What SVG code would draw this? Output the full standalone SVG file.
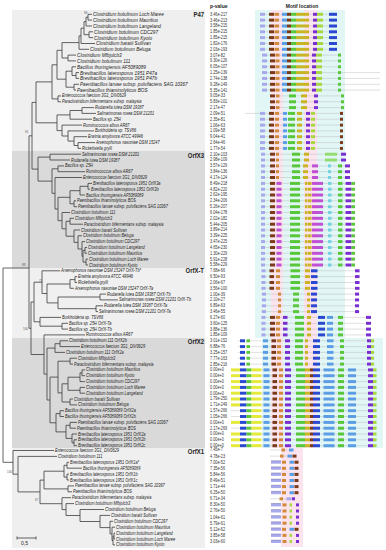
<svg xmlns="http://www.w3.org/2000/svg" width="386" height="550" viewBox="0 0 386 550">
<style>
.tr{fill:none;stroke:#3c3c3c;stroke-width:0.8}
.t1{font-family:"Liberation Sans",Arial,sans-serif;font-style:italic;font-size:5.5px;fill:#222}
.t2{font-family:"Liberation Sans",Arial,sans-serif;font-style:italic;font-size:4.6px;fill:#222}
.pv{font-family:"Liberation Sans",Arial,sans-serif;font-size:4.5px;fill:#333}
.gl{font-family:"Liberation Sans",Arial,sans-serif;font-weight:bold;font-size:7px;fill:#222;text-anchor:end}
.hd{font-family:"Liberation Sans",Arial,sans-serif;font-weight:bold;font-size:5px;fill:#222}
.bs{font-family:"Liberation Sans",Arial,sans-serif;font-size:3px;fill:#555}
.ln{fill:none;stroke:#b0b0b0;stroke-width:0.4}
defs rect{y:-1.5px;height:3px}
.lav{fill:#a8a8ec}.brn{fill:#7b3a1a}.org{fill:#d08a3a}.lbl{fill:#5c9ee6}.grn{fill:#58c83a}.lgr{fill:#94dc70}
.olv{fill:#c8b424}.pur{fill:#7a30d0}.ygr{fill:#a8d840}.blu{fill:#2a48d0}.cyn{fill:#72d2e2}.ylw{fill:#e4ea3c}.mag{fill:#bf50d6}
</style>
<defs>
<g id="mA"><path class="ln" d="M260 0H337"/><rect class="lav" x="260" y="-1.7" width="5" height="3.4"/><rect class="brn" x="269" y="-1.7" width="5" height="3.4"/><rect class="org" x="274.5" y="-1.7" width="4.5" height="3.4"/><rect class="lbl" x="282" y="-1.7" width="5" height="3.4"/><rect class="brn" x="287" y="-1.7" width="4" height="3.4"/><rect class="grn" x="291" y="-1.7" width="5" height="3.4"/><rect class="olv" x="296" y="-1.7" width="13" height="3.4"/><rect class="pur" x="313" y="-1.7" width="4" height="3.4"/><rect class="ygr" x="317" y="-1.7" width="6" height="3.4"/><rect class="blu" x="329" y="-1.7" width="8" height="3.4"/></g>
<g id="mB"><path class="ln" d="M262 0H341"/><rect class="lav" x="262" y="-1.7" width="5" height="3.4"/><rect class="brn" x="270" y="-1.7" width="5" height="3.4"/><rect class="org" x="275.5" y="-1.7" width="4" height="3.4"/><rect class="lbl" x="282" y="-1.7" width="5" height="3.4"/><rect class="brn" x="287" y="-1.7" width="4" height="3.4"/><rect class="grn" x="291" y="-1.7" width="5" height="3.4"/><rect class="olv" x="296" y="-1.7" width="13" height="3.4"/><rect class="pur" x="312" y="-1.7" width="4" height="3.4"/><rect class="ygr" x="316" y="-1.7" width="6" height="3.4"/><rect class="grn" x="338" y="-1.7" width="3" height="3.4"/></g>
<g id="mC1"><path class="ln" d="M270 0H344"/><rect class="brn" x="270" y="-1.7" width="5" height="3.4"/><rect class="org" x="276" y="-1.7" width="3.5" height="3.4"/><rect class="grn" x="289" y="-1.7" width="7" height="3.4"/><rect class="olv" x="301" y="-1.7" width="6" height="3.4"/><rect class="pur" x="314" y="-1.7" width="4" height="3.4"/><rect class="grn" x="341" y="-1.7" width="3" height="3.4"/></g>
<g id="mC2"><path class="ln" d="M260 0H343"/><rect class="lav" x="260" y="-1.7" width="5" height="3.4"/><rect class="brn" x="269" y="-1.7" width="5" height="3.4"/><rect class="org" x="275" y="-1.7" width="4" height="3.4"/><rect class="lbl" x="283" y="-1.7" width="4" height="3.4"/><rect class="grn" x="288" y="-1.7" width="7" height="3.4"/><rect class="olv" x="297" y="-1.7" width="5" height="3.4"/><rect class="pur" x="306" y="-1.7" width="4" height="3.4"/><rect class="ygr" x="311" y="-1.7" width="4" height="3.4"/><rect class="brn" x="340" y="-1.7" width="3" height="3.4"/></g>
<g id="mD1"><path class="ln" d="M261 0H347"/><rect class="lav" x="261" y="-1.7" width="4" height="3.4"/><rect class="brn" x="270" y="-1.7" width="5" height="3.4"/><rect class="org" x="276" y="-1.7" width="3" height="3.4"/><rect class="grn" x="292" y="-1.7" width="8" height="3.4"/><rect class="olv" x="304" y="-1.7" width="5" height="3.4"/><rect class="lgr" x="325" y="-1.7" width="12" height="3.4"/><rect class="pur" x="341" y="-1.7" width="5" height="3.4"/></g>
<g id="mD2"><path class="ln" d="M261 0H350"/><rect class="lav" x="261" y="-1.7" width="4" height="3.4"/><rect class="brn" x="270" y="-1.7" width="5" height="3.4"/><rect class="org" x="276" y="-1.7" width="3" height="3.4"/><rect class="grn" x="292" y="-1.7" width="8" height="3.4"/><rect class="olv" x="303" y="-1.7" width="5" height="3.4"/><rect class="mag" x="312" y="-1.7" width="6" height="3.4"/><rect class="cyn" x="328" y="-1.7" width="3" height="3.4"/><rect class="grn" x="338" y="-1.7" width="4" height="3.4"/><rect class="pur" x="345" y="-1.7" width="5" height="3.4"/></g>
<g id="mD3"><path class="ln" d="M261 0H355"/><rect class="lav" x="261" y="-1.7" width="4" height="3.4"/><rect class="brn" x="270" y="-1.7" width="5" height="3.4"/><rect class="mag" x="276.5" y="-1.7" width="5" height="3.4"/><rect class="grn" x="290" y="-1.7" width="10" height="3.4"/><rect class="olv" x="305" y="-1.7" width="2.5" height="3.4"/><rect class="olv" x="308" y="-1.7" width="3.5" height="3.4"/><rect class="mag" x="312" y="-1.7" width="11" height="3.4"/><rect class="cyn" x="328" y="-1.7" width="3.5" height="3.4"/><rect class="grn" x="338" y="-1.7" width="4.5" height="3.4"/><rect class="pur" x="345.5" y="-1.7" width="6" height="3.4"/><rect class="grn" x="351.5" y="-1.7" width="3.5" height="3.4"/></g>
<g id="mE1"><path class="ln" d="M261 0H360"/><rect class="lav" x="261.5" y="-1.7" width="4" height="3.4"/><rect class="brn" x="269.5" y="-1.7" width="4.5" height="3.4"/><rect class="org" x="276" y="-1.7" width="4" height="3.4"/><rect class="grn" x="290.5" y="-1.7" width="9.5" height="3.4"/><rect class="olv" x="305" y="-1.7" width="5" height="3.4"/><rect class="blu" x="311" y="-1.7" width="6.5" height="3.4"/><rect class="pur" x="355" y="-1.7" width="4.5" height="3.4"/></g>
<g id="mE2"><path class="ln" d="M261 0H360"/><rect class="lav" x="262" y="-1.7" width="4" height="3.4"/><rect class="org" x="278" y="-1.7" width="3" height="3.4"/><rect class="grn" x="293" y="-1.7" width="6" height="3.4"/><rect class="olv" x="307" y="-1.7" width="3" height="3.4"/><rect class="blu" x="311" y="-1.7" width="6" height="3.4"/><rect class="pur" x="355" y="-1.7" width="4" height="3.4"/></g>
<g id="mE3"><path class="ln" d="M261 0H371"/><rect class="lav" x="261.5" y="-1.7" width="4" height="3.4"/><rect class="brn" x="270" y="-1.7" width="5" height="3.4"/><rect class="org" x="276" y="-1.7" width="4" height="3.4"/><rect class="pur" x="283" y="-1.7" width="4.5" height="3.4"/><rect class="grn" x="295" y="-1.7" width="9" height="3.4"/><rect class="olv" x="307" y="-1.7" width="4" height="3.4"/><rect class="blu" x="318" y="-1.7" width="7" height="3.4"/><rect class="lbl" x="327" y="-1.7" width="6" height="3.4"/><rect class="grn" x="338" y="-1.7" width="5" height="3.4"/><rect class="pur" x="366" y="-1.7" width="5" height="3.4"/></g>
<g id="mF1"><path class="ln" d="M238 0H375"/><rect class="blu" x="240" y="-1.7" width="5" height="3.4"/><rect class="grn" x="246.5" y="-1.7" width="3.5" height="3.4"/><rect class="lbl" x="263" y="-1.7" width="5" height="3.4"/><rect class="brn" x="271.5" y="-1.7" width="4.5" height="3.4"/><rect class="org" x="277" y="-1.7" width="4" height="3.4"/><rect class="pur" x="285" y="-1.7" width="5" height="3.4"/><rect class="grn" x="295" y="-1.7" width="8" height="3.4"/><rect class="olv" x="305" y="-1.7" width="3" height="3.4"/><rect class="blu" x="313" y="-1.7" width="7" height="3.4"/><rect class="lbl" x="327" y="-1.7" width="6.5" height="3.4"/><rect class="grn" x="340" y="-1.7" width="4" height="3.4"/><rect class="pur" x="367" y="-1.7" width="4" height="3.4"/><rect class="ygr" x="371" y="-1.7" width="3" height="3.4"/></g>
<g id="mF3"><path class="ln" d="M231 0H377"/><rect class="blu" x="240" y="-1.7" width="6.5" height="3.4"/><rect class="grn" x="246.5" y="-1.7" width="5" height="3.4"/><rect class="ylw" x="251.5" y="-1.7" width="10" height="3.4"/><rect class="lbl" x="263.5" y="-1.7" width="6" height="3.4"/><rect class="brn" x="272.5" y="-1.7" width="4.5" height="3.4"/><rect class="org" x="279" y="-1.7" width="4" height="3.4"/><rect class="pur" x="285" y="-1.7" width="6" height="3.4"/><rect class="grn" x="296" y="-1.7" width="9" height="3.4"/><rect class="olv" x="305" y="-1.7" width="5" height="3.4"/><rect class="brn" x="310" y="-1.7" width="3" height="3.4"/><rect class="blu" x="313" y="-1.7" width="7" height="3.4"/><rect class="lbl" x="323.5" y="-1.7" width="11" height="3.4"/><rect class="grn" x="338" y="-1.7" width="6" height="3.4"/><rect class="lbl" x="348" y="-1.7" width="8" height="3.4"/><rect class="pur" x="368" y="-1.7" width="5" height="3.4"/><rect class="ygr" x="373" y="-1.7" width="3.5" height="3.4"/></g>
<g id="mF2"><use href="#mF3"/><rect class="ylw" x="231" y="-1.7" width="9" height="3.4"/></g>
<g id="mG0"><path class="ln" d="M270 0H293"/><rect class="org" x="281.5" y="-1.7" width="3.5" height="3.4"/><rect class="lbl" x="289" y="-1.7" width="4.5" height="3.4"/></g>
<g id="mG1"><path class="ln" d="M270 0H297"/><rect class="org" x="280" y="-1.7" width="3.5" height="3.4"/><rect class="lbl" x="287.5" y="-1.7" width="4.5" height="3.4"/><rect class="brn" x="292.5" y="-1.7" width="4" height="3.4"/></g>
<g id="mG2"><rect class="lav" x="271" y="-1.7" width="10" height="3.4"/><path d="M271 -1.4H281" stroke="#6a6a9a" stroke-width="0.4"/><rect class="org" x="282" y="-1.7" width="4" height="3.4"/><rect class="lbl" x="289.5" y="-1.7" width="4.5" height="3.4"/><rect class="brn" x="294.5" y="-1.7" width="4" height="3.4"/></g>
<g id="mG3"><rect class="lav" x="271" y="-1.7" width="10" height="3.4"/><path d="M271 -1.4H281" stroke="#6a6a9a" stroke-width="0.4"/><rect class="org" x="282.5" y="-1.7" width="4" height="3.4"/><rect class="ygr" x="289.5" y="-1.7" width="2.5" height="3.4"/><rect class="pur" x="296" y="-1.7" width="3" height="3.4"/></g>
<g id="mG4"><path class="ln" d="M270 0H295"/><rect class="org" x="279.5" y="-1.7" width="3.5" height="3.4"/><rect class="lav" x="286.5" y="-1.7" width="5" height="3.4"/><rect class="pur" x="292" y="-1.7" width="3" height="3.4"/></g>
</defs>
<rect width="386" height="550" fill="#ffffff"/>
<g id="clade-boxes">
<rect x="12" y="10" width="193" height="141" fill="#efefef"/>
<rect x="12" y="151" width="193" height="117" fill="#dadada"/>
<rect x="12" y="268" width="193" height="70" fill="#f0f0f0"/>
<rect x="12" y="338" width="193" height="110" fill="#d9d9d9"/>
<rect x="12" y="448" width="193" height="100" fill="#efefef"/>
</g>
<g id="motif-background">
<rect x="255" y="10" width="90" height="328" fill="#e2f6f6"/>
<rect x="271" y="10" width="12" height="328" fill="#fce4ef"/>
<rect x="304" y="10" width="13" height="328" fill="#fce4ef"/>
<rect x="262" y="338" width="121" height="110" fill="#e2f6f6"/>
<rect x="271" y="338" width="12" height="110" fill="#fce4ef"/>
<rect x="304" y="338" width="13" height="110" fill="#fce4ef"/>
<rect x="281" y="447" width="22" height="100" fill="#fce4ef"/>
</g>
<g id="connectors">
<path class="tr" d="M88 14.3V20.1M88 14.3H92M88 20.1H92M86 17.2V26M86 17.2H88M86 26H92M89 31.8V37.6M89 31.8H93M89 37.6H93M84 21.6V34.7M84 21.6H86M84 34.7H89M81 28.2V43.5H95M81 28.2H84M79 35.9V49.3H89M79 35.9H81M68 55.1V60.9M68 55.1H76M68 60.9H76M62 42.6V58M62 42.6H79M62 58H68M76 72.6V78.4M76 72.6H79M76 78.4H79M72 66.8V75.5M72 66.8H76M72 75.5H76M74 84.3V90.1M74 84.3H79M74 90.1H76M66 71.2V87.2M66 71.2H72M66 87.2H74M57 50.3V79.2M57 50.3H62M57 79.2H66M58 95.9V101.8M58 95.9H61M58 101.8H61M52 64.8V98.9M52 64.8H57M52 98.9H58M82 107.6V113.4M82 107.6H94M82 113.4H96M70 110.5V119.2H92M70 110.5H82M78 142.6V148.4M78 142.6H95M78 148.4H81M74 136.7V145.5M74 136.7H87M74 145.5H78M68 130.9V141.1M68 130.9H94M68 141.1H74M62 125.1V136M62 125.1H82M62 136H68M57 114.9V130.6M57 114.9H70M57 130.6H62M36 81.9V122.8M36 81.9H52M36 122.8H57"/>
<path class="tr" d="M50 154.2V160M50 154.2H81M50 160H70M58 165.9V171.7M58 165.9H64M58 171.7H85M88 183.4V189.2M88 183.4H92M88 189.2H90M80 186.3V195H85M80 186.3H88M74 200.8V206.7M74 200.8H76M74 206.7H77M70 190.7V203.8M70 190.7H80M70 203.8H74M70 218.3V224.2M70 218.3H74M70 224.2H83M86 259.1V265M86 259.1H88M86 265H88M85 247.5V253.3M85 247.5H87M85 253.3H87M83 250.4V262.1M83 250.4H85M83 262.1H86M82 241.6V256.3M82 241.6H85M82 256.3H83M78 235.8V249M78 235.8H82M78 249H82M74 230V242.4M74 230H80M74 242.4H78M66 221.3V236.2M66 221.3H70M66 236.2H74M62 212.5V228.8M62 212.5H70M62 228.8H66M58 197.3V220.7M58 197.3H70M58 220.7H62M55 177.5V209M55 177.5H82M55 209H58M52 168.8V193.3M52 168.8H58M52 193.3H55M38 157.1V181.1M38 157.1H50M38 181.1H52M32 102.4V169.1M32 102.4H36M32 169.1H38"/>
<path class="tr" d="M75 276.6V282.5M75 276.6H77M75 282.5H77M70 279.6V288.3H74M70 279.6H75M100 294.1V299.9M100 294.1H106M100 299.9H118M96 305.8V311.6M96 305.8H103M96 311.6H98M58 297V308.7M58 297H100M58 308.7H96M47 284V302.9M47 284H70M47 302.9H58M42 270.8V293.5M42 270.8H60M42 293.5H47M62 323.3V329.1M62 323.3H68M62 329.1H68M40 317.4V326.2M40 317.4H61M40 326.2H62M34 282.2V321.8M34 282.2H42M34 321.8H40"/>
<path class="tr" d="M60 340.8V346.6M60 340.8H68M60 346.6H80M55 343.7V352.4H65M55 343.7H60M70 358.2V364.1M70 358.2H77M70 364.1H73M82 369.9V375.7M82 369.9H85M82 375.7H85M80 372.8V381.6H85M80 372.8H82M80 387.4V393.2M80 387.4H85M80 393.2H85M68 377.2V390.3M68 377.2H80M68 390.3H80M70 399V404.9M70 399H73M70 404.9H77M62 383.8V402M62 383.8H68M62 402H70M58 361.2V392.9M58 361.2H70M58 392.9H62M60 410.7V416.5M60 410.7H64M60 416.5H64M70 422.4V428.2M70 422.4H77M70 428.2H76M74 439.8V445.7M74 439.8H77M74 445.7H77M72 434V442.8M72 434H77M72 442.8H74M66 425.3V438.4M66 425.3H70M66 438.4H72M56 413.6V431.9M56 413.6H60M56 431.9H66M50 377.1V422.8M50 377.1H58M50 422.8H56M47 348.1V400M47 348.1H55M47 400H50M44 334.9V374.1M44 334.9H85M44 374.1H47M31 302V354.5M31 302H34M31 354.5H44M29 135.8V328.3M29 135.8H32M29 328.3H31"/>
<path class="tr" d="M67 462.3V468.2M67 462.3H69M67 468.2H82M67 474.1V480M67 474.1H69M67 480H69M64 465.3V477.1M64 465.3H67M64 477.1H67M68 485.9V491.8M68 485.9H74M68 491.8H72M44 471.2V488.9M44 471.2H64M44 488.9H68M114 533.1V539M114 533.1H115M114 539H115M113 536.1V544.9H115M113 536.1H114M112 527.2V540.5M112 527.2H115M112 540.5H113M110 521.3V533.9M110 521.3H113M110 533.9H112M100 515.4V527.6M100 515.4H110M100 527.6H110M80 509.5V521.5M80 509.5H104M80 521.5H100M66 503.6V515.5M66 503.6H74M66 515.5H80M62 497.7V509.6M62 497.7H71M62 509.6H66M40 480.1V503.7M40 480.1H44M40 503.7H62M18 456.4V491.9M18 456.4H57M18 491.9H40M13 450.5V474.2M13 450.5H54M13 474.2H18M3 268V462.3M3 268H29M3 462.3H13"/>
<path class="tr" d="M17 538H36M17 536.5V539.5M36 536.5V539.5"/>
</g>
<g id="bootstrap">
<text class="bs" x="84" y="13.5">96</text>
<text class="bs" x="25" y="133">91</text>
<text class="bs" x="22" y="266">88</text>
<text class="bs" x="39" y="282">71</text>
<text class="bs" x="23" y="330">100</text>
<text class="bs" x="7" y="473">100</text>
<text class="bs" x="35" y="501">67</text>
</g>
<g id="scale-bar"><text x="21" y="545" font-family="Liberation Sans, Arial, sans-serif" font-size="5" fill="#222">0,5</text></g>
<g id="headers">
<text class="hd" x="210" y="8">p-value</text>
<text class="hd" x="302" y="8" text-anchor="middle">Motif location</text>
</g>
<g id="labels" transform="scale(0.85 1)">
<g id="clade-P47">
<text class="gl" x="240" y="17">P47</text>
<text class="t1" x="109.4" y="16.3">Clostridium botulinum Loch Maree</text>
<text class="t1" x="109.4" y="22.1">Clostridium botulinum Mauritius</text>
<text class="t1" x="109.4" y="28">Clostridium botulinum Langeland</text>
<text class="t1" x="110.6" y="33.8">Clostridium botulinum CDC297</text>
<text class="t1" x="110.6" y="39.6">Clostridium botulinum Kyoto</text>
<text class="t1" x="112.9" y="45.5">Clostridium baratii Sullivan</text>
<text class="t1" x="105.9" y="51.3">Clostridium botulinum Beluga</text>
<text class="t1" x="90.6" y="57.1">Clostridium Mfbjulcb3</text>
<text class="t1" x="90.6" y="62.9">Clostridium botulinum 111</text>
<text class="t1" x="90.6" y="68.8">Bacillus thuringiensis AF5089089</text>
<text class="t1" x="94.1" y="74.6">Brevibacillus laterosporus 1951 P47a</text>
<text class="t1" x="94.1" y="80.4">Brevibacillus laterosporus 1951 P47b</text>
<text class="t1" x="94.1" y="86.3">Paenibacillus larvae subsp. pulvifaciens SAG 10367</text>
<text class="t1" x="90.6" y="92.1">Paenibacillus thiaminolyticus BOS</text>
<text class="t2" x="72.9" y="97.5">Enterococcus faecium 3G1_DIV0629</text>
<text class="t2" x="72.9" y="103.4">Paraclostridium bifermentans subsp. malaysia</text>
<text class="t2" x="111.8" y="109.2">Rudanella lutea DSM 19387</text>
<text class="t2" x="114.1" y="115">Salinarimonas rosea DSM 21201</text>
<text class="t2" x="109.4" y="120.8">Bacillus sp. 25H</text>
<text class="t2" x="97.6" y="126.7">Ruminococcus albus AR67</text>
<text class="t2" x="111.8" y="132.5">Burkholderia sp. TSV86</text>
<text class="t2" x="103.5" y="138.3">Erwinia amylovora ATCC 49946</text>
<text class="t2" x="112.9" y="144.2">Arsenophonus nasoniae DSM 15247</text>
<text class="t2" x="96.5" y="150">Rickettsiella grylli</text>
</g>
<g id="clade-OrfX3">
<text class="gl" x="240" y="158.3">OrfX3</text>
<text class="t2" x="96.5" y="155.8">Salinarimonas rosea DSM 21201</text>
<text class="t2" x="83.5" y="161.6">Rudanella lutea DSM 19387</text>
<text class="t2" x="76.5" y="167.5">Bacillus sp. 25H</text>
<text class="t2" x="101.2" y="173.3">Ruminococcus albus AR67</text>
<text class="t2" x="97.6" y="179.1">Enterococcus faecium 3G1_DIV0629</text>
<text class="t2" x="109.4" y="185">Brevibacillus laterosporus 1951 OrfX3a</text>
<text class="t2" x="107.1" y="190.8">Brevibacillus laterosporus 1951 OrfX3b</text>
<text class="t2" x="101.2" y="196.6">Bacillus thuringiensis AF5089089</text>
<text class="t2" x="90.6" y="202.4">Paenibacillus thiaminolyticus BOS</text>
<text class="t2" x="91.8" y="208.3">Paenibacillus larvae subsp. pulvifaciens SAG 10367</text>
<text class="t2" x="83.5" y="214.1">Clostridium botulinum 111</text>
<text class="t2" x="88.2" y="219.9">Clostridium Mfbjulcb3</text>
<text class="t2" x="98.8" y="225.8">Paraclostridium bifermentans subsp. malaysia</text>
<text class="t2" x="95.3" y="231.6">Clostridium baratii Sullivan</text>
<text class="t2" x="97.6" y="237.4">Clostridium botulinum Beluga</text>
<text class="t2" x="101.2" y="243.2">Clostridium botulinum CDC297</text>
<text class="t2" x="103.5" y="249.1">Clostridium botulinum Langeland</text>
<text class="t2" x="103.5" y="254.9">Clostridium botulinum Mauritius</text>
<text class="t2" x="104.7" y="260.7">Clostridium botulinum Loch Maree</text>
<text class="t2" x="104.7" y="266.6">Clostridium botulinum Kyoto</text>
</g>
<g id="clade-OrfX-T">
<text class="gl" x="240" y="273.3">OrfX-T</text>
<text class="t2" x="71.8" y="272.4">Arsenophonus nasoniae DSM 15247 OrfX-Tb*</text>
<text class="t2" x="91.8" y="278.2">Erwinia amylovora ATCC 49946</text>
<text class="t2" x="91.8" y="284.1">Rickettsiella grylli</text>
<text class="t2" x="88.2" y="289.9">Arsenophonus nasoniae DSM 15247 OrfX-Ta</text>
<text class="t2" x="125.9" y="295.7">Rudanella lutea DSM 19387 OrfX-Tb</text>
<text class="t2" x="140" y="301.5">Salinarimonas rosea DSM 21201 OrfX-Tb</text>
<text class="t2" x="122.4" y="307.4">Rudanella lutea DSM 19387 OrfX-Ta</text>
<text class="t2" x="116.5" y="313.2">Salinarimonas rosea DSM 21201 OrfX-Ta</text>
<text class="t2" x="72.9" y="319">Burkholderia sp. TSV86</text>
<text class="t2" x="81.2" y="324.9">Bacillus sp. 25H OrfX-Ta</text>
<text class="t2" x="81.2" y="330.7">Bacillus sp. 25H OrfX-Tb</text>
<text class="t2" x="101.2" y="336.5">Ruminococcus albus AR67</text>
</g>
<g id="clade-OrfX2">
<text class="gl" x="240" y="344">OrfX2</text>
<text class="t2" x="81.2" y="342.4">Clostridium botulinum 111 OrfX2b</text>
<text class="t2" x="95.3" y="348.2">Enterococcus faecium 3G1_DIV0629</text>
<text class="t2" x="77.6" y="354">Clostridium botulinum 111 OrfX2a</text>
<text class="t2" x="91.8" y="359.8">Clostridium Mfbjulcb3</text>
<text class="t2" x="87.1" y="365.7">Paraclostridium bifermentans subsp. malaysia</text>
<text class="t2" x="101.2" y="371.5">Clostridium botulinum Mauritius</text>
<text class="t2" x="101.2" y="377.3">Clostridium botulinum Kyoto</text>
<text class="t2" x="101.2" y="383.2">Clostridium botulinum CDC297</text>
<text class="t2" x="101.2" y="389">Clostridium botulinum Loch Maree</text>
<text class="t2" x="101.2" y="394.8">Clostridium botulinum Langeland</text>
<text class="t2" x="87.1" y="400.6">Clostridium baratii Sullivan</text>
<text class="t2" x="91.8" y="406.5">Clostridium botulinum Beluga</text>
<text class="t2" x="76.5" y="412.3">Bacillus thuringiensis AF5089089 OrfX2a</text>
<text class="t2" x="76.5" y="418.1">Bacillus thuringiensis AF5089089 OrfX2b</text>
<text class="t2" x="91.8" y="424">Paenibacillus larvae subsp. pulvifaciens SAG 10367</text>
<text class="t2" x="90.6" y="429.8">Paenibacillus thiaminolyticus BOS</text>
<text class="t2" x="91.8" y="435.6">Brevibacillus laterosporus 1951 OrfX2a</text>
<text class="t2" x="91.8" y="441.4">Brevibacillus laterosporus 1951 OrfX2b</text>
<text class="t2" x="91.8" y="447.3">Brevibacillus laterosporus 1951 OrfX2c</text>
</g>
<g id="clade-OrfX1">
<text class="gl" x="240" y="454">OrfX1</text>
<text class="t2" x="64.7" y="452.1">Enterococcus faecium 3G1_DIV0629</text>
<text class="t2" x="68.2" y="458">Clostridium botulinum 111</text>
<text class="t2" x="82.4" y="463.9">Brevibacillus laterosporus 1951 OrfX1a*</text>
<text class="t2" x="97.6" y="469.8">Bacillus thuringiensis AF5089089</text>
<text class="t2" x="82.4" y="475.7">Brevibacillus laterosporus 1951 OrfX1b</text>
<text class="t2" x="82.4" y="481.6">Brevibacillus laterosporus 1951 OrfX1c</text>
<text class="t2" x="88.2" y="487.5">Paenibacillus larvae subsp. pulvifaciens SAG 10367</text>
<text class="t2" x="85.9" y="493.4">Paenibacillus thiaminolyticus BOS</text>
<text class="t2" x="84.7" y="499.3">Paraclostridium bifermentans subsp. malaysia</text>
<text class="t2" x="88.2" y="505.2">Clostridium botulinum Mfbjulcb3</text>
<text class="t2" x="123.5" y="511.1">Clostridium botulinum Beluga</text>
<text class="t2" x="130.6" y="517">Clostridium baratii Sullivan</text>
<text class="t2" x="134.1" y="522.9">Clostridium botulinum CDC297</text>
<text class="t2" x="136.5" y="528.8">Clostridium botulinum Mauritius</text>
<text class="t2" x="136.5" y="534.7">Clostridium botulinum Langeland</text>
<text class="t2" x="136.5" y="540.6">Clostridium botulinum Loch Maree</text>
<text class="t2" x="136.5" y="546.5">Clostridium botulinum Kyoto</text>
</g>
<g id="p-values">
<text class="pv" x="247.1" y="15.8">3.46e-217</text>
<text class="pv" x="247.1" y="21.6">3.46e-213</text>
<text class="pv" x="247.1" y="27.5">3.58e-215</text>
<text class="pv" x="247.1" y="33.3">1.85e-215</text>
<text class="pv" x="247.1" y="39.1">1.85e-215</text>
<text class="pv" x="247.1" y="45">1.82e-176</text>
<text class="pv" x="247.1" y="50.8">2.03e-193</text>
<text class="pv" x="247.1" y="56.6">3.07e-82</text>
<text class="pv" x="247.1" y="62.4">9.30e-126</text>
<text class="pv" x="247.1" y="68.3">6.05e-107</text>
<text class="pv" x="247.1" y="74.1">1.25e-139</text>
<text class="pv" x="247.1" y="79.9">2.74e-138</text>
<text class="pv" x="247.1" y="85.8">9.28e-149</text>
<text class="pv" x="247.1" y="91.6">5.35e-141</text>
<text class="pv" x="247.1" y="97.4">9.05e-33</text>
<text class="pv" x="247.1" y="103.3">5.83e-101</text>
<text class="pv" x="247.1" y="109.1">2.17e-47</text>
<text class="pv" x="247.1" y="114.9">2.09e-51</text>
<text class="pv" x="247.1" y="120.7">2.35e-81</text>
<text class="pv" x="247.1" y="126.6">1.06e-63</text>
<text class="pv" x="247.1" y="132.4">1.09e-58</text>
<text class="pv" x="247.1" y="138.2">9.04e-41</text>
<text class="pv" x="247.1" y="144.1">2.64e-46</text>
<text class="pv" x="247.1" y="149.9">1.77e-54</text>
<text class="pv" x="247.1" y="155.7">2.10e-103</text>
<text class="pv" x="247.1" y="161.5">2.98e-109</text>
<text class="pv" x="247.1" y="167.4">3.57e-129</text>
<text class="pv" x="247.1" y="173.2">3.84e-136</text>
<text class="pv" x="247.1" y="179">4.17e-124</text>
<text class="pv" x="247.1" y="184.9">8.49e-218</text>
<text class="pv" x="247.1" y="190.7">4.82e-220</text>
<text class="pv" x="247.1" y="196.5">2.62e-195</text>
<text class="pv" x="247.1" y="202.3">2.34e-206</text>
<text class="pv" x="247.1" y="208.2">5.26e-207</text>
<text class="pv" x="247.1" y="214">6.04e-178</text>
<text class="pv" x="247.1" y="219.8">2.02e-182</text>
<text class="pv" x="247.1" y="225.7">5.44e-205</text>
<text class="pv" x="247.1" y="231.5">3.89e-214</text>
<text class="pv" x="247.1" y="237.3">3.39e-225</text>
<text class="pv" x="247.1" y="243.1">3.47e-225</text>
<text class="pv" x="247.1" y="249">4.65e-230</text>
<text class="pv" x="247.1" y="254.8">1.30e-229</text>
<text class="pv" x="247.1" y="260.6">5.91e-228</text>
<text class="pv" x="247.1" y="266.5">5.58e-229</text>
<text class="pv" x="247.1" y="272.3">7.68e-66</text>
<text class="pv" x="247.1" y="278.1">6.50e-93</text>
<text class="pv" x="247.1" y="284">2.06e-67</text>
<text class="pv" x="247.1" y="289.8">3.56e-100</text>
<text class="pv" x="247.1" y="295.6">1.00e-39</text>
<text class="pv" x="247.1" y="301.4">2.10e-27</text>
<text class="pv" x="247.1" y="307.3">6.89e-63</text>
<text class="pv" x="247.1" y="313.1">3.46e-55</text>
<text class="pv" x="247.1" y="318.9">6.27e-60</text>
<text class="pv" x="247.1" y="324.8">3.60e-125</text>
<text class="pv" x="247.1" y="330.6">3.88e-136</text>
<text class="pv" x="247.1" y="336.4">1.85e-109</text>
<text class="pv" x="247.1" y="342.3">3.01e-152</text>
<text class="pv" x="247.1" y="348.1">6.88e-76</text>
<text class="pv" x="247.1" y="353.9">3.25e-157</text>
<text class="pv" x="247.1" y="359.7">7.77e-163</text>
<text class="pv" x="247.1" y="365.6">2.85e-216</text>
<text class="pv" x="247.1" y="371.4">0.00e+0</text>
<text class="pv" x="247.1" y="377.2">0.00e+0</text>
<text class="pv" x="247.1" y="383.1">0.00e+0</text>
<text class="pv" x="247.1" y="388.9">0.00e+0</text>
<text class="pv" x="247.1" y="394.7">0.00e+0</text>
<text class="pv" x="247.1" y="400.5">1.79e-250</text>
<text class="pv" x="247.1" y="406.4">1.71e-249</text>
<text class="pv" x="247.1" y="412.2">1.57e-266</text>
<text class="pv" x="247.1" y="418">1.05e-266</text>
<text class="pv" x="247.1" y="423.9">0.00e+0</text>
<text class="pv" x="247.1" y="429.7">2.17e-269</text>
<text class="pv" x="247.1" y="435.5">0.00e+0</text>
<text class="pv" x="247.1" y="441.3">0.00e+0</text>
<text class="pv" x="247.1" y="447.2">0.00e+0</text>
<text class="pv" x="247.1" y="451.5">7.45e-7</text>
<text class="pv" x="247.1" y="457.6">4.78e-23</text>
<text class="pv" x="247.1" y="463.7">7.00e-52</text>
<text class="pv" x="247.1" y="469.8">7.35e-56</text>
<text class="pv" x="247.1" y="475.9">5.84e-56</text>
<text class="pv" x="247.1" y="482">8.49e-51</text>
<text class="pv" x="247.1" y="488.1">1.71e-44</text>
<text class="pv" x="247.1" y="494.2">6.25e-50</text>
<text class="pv" x="247.1" y="500.3">6.71e-34</text>
<text class="pv" x="247.1" y="506.4">8.30e-50</text>
<text class="pv" x="247.1" y="512.5">2.76e-50</text>
<text class="pv" x="247.1" y="518.6">1.04e-61</text>
<text class="pv" x="247.1" y="524.7">5.79e-61</text>
<text class="pv" x="247.1" y="530.8">5.12e-62</text>
<text class="pv" x="247.1" y="536.9">3.85e-58</text>
<text class="pv" x="247.1" y="543">3.03e-60</text>
</g>
</g>
<g id="motifs">
<path class="ln" d="M341 72.6H380M341 78.4H380M341 84.3H380M341 90.1H380M245 113.4H260"/>
<use href="#mA" y="14.3"/><use href="#mA" y="20.1"/><use href="#mA" y="26"/><use href="#mA" y="31.8"/><use href="#mA" y="37.6"/><use href="#mA" y="43.5"/><use href="#mA" y="49.3"/>
<use href="#mB" y="55.1"/><use href="#mB" y="60.9"/><use href="#mB" y="66.8"/><use href="#mB" y="72.6"/><use href="#mB" y="78.4"/><use href="#mB" y="84.3"/><use href="#mB" y="90.1"/>
<use href="#mC1" y="95.9"/><use href="#mC1" y="101.8"/><use href="#mC1" y="107.6"/>
<use href="#mC2" y="113.4"/><use href="#mC2" y="119.2"/><use href="#mC2" y="125.1"/><use href="#mC2" y="130.9"/><use href="#mC2" y="136.7"/><use href="#mC2" y="142.6"/><use href="#mC2" y="148.4"/>
<use href="#mD1" y="154.2"/><use href="#mD1" y="160"/>
<use href="#mD2" y="165.9"/><use href="#mD2" y="171.7"/><use href="#mD2" y="177.5"/>
<use href="#mD3" y="183.4"/><use href="#mD3" y="189.2"/><use href="#mD3" y="195"/><use href="#mD3" y="200.8"/><use href="#mD3" y="206.7"/><use href="#mD3" y="212.5"/><use href="#mD3" y="218.3"/><use href="#mD3" y="224.2"/><use href="#mD3" y="230"/><use href="#mD3" y="235.8"/><use href="#mD3" y="241.6"/><use href="#mD3" y="247.5"/><use href="#mD3" y="253.3"/><use href="#mD3" y="259.1"/><use href="#mD3" y="265"/>
<use href="#mE1" y="270.8"/><use href="#mE1" y="276.6"/><use href="#mE1" y="282.5"/><use href="#mE1" y="288.3"/>
<use href="#mE2" y="294.1"/><use href="#mE2" y="299.9"/><use href="#mE2" y="305.8"/><use href="#mE2" y="311.6"/>
<use href="#mE3" y="317.4"/><use href="#mE3" y="323.3"/><use href="#mE3" y="329.1"/><use href="#mE3" y="334.9"/>
<use href="#mF1" y="340.8"/><use href="#mF1" y="346.6"/><use href="#mF1" y="352.4"/><use href="#mF1" y="358.2"/><use href="#mF1" y="364.1"/>
<use href="#mF2" y="369.9"/><use href="#mF2" y="375.7"/><use href="#mF2" y="381.6"/><use href="#mF2" y="387.4"/><use href="#mF2" y="393.2"/><use href="#mF2" y="399"/><use href="#mF2" y="404.9"/>
<use href="#mF3" y="410.7"/><use href="#mF3" y="416.5"/><use href="#mF2" y="422.4"/><use href="#mF3" y="428.2"/><use href="#mF2" y="434"/><use href="#mF2" y="439.8"/><use href="#mF2" y="445.7"/>
<use href="#mG0" y="450"/><use href="#mG1" y="456.1"/><use href="#mG2" y="462.2"/><use href="#mG2" y="468.3"/><use href="#mG2" y="474.4"/><use href="#mG2" y="480.5"/><use href="#mG2" y="486.6"/><use href="#mG2" y="492.7"/><use href="#mG4" y="498.8"/><use href="#mG3" y="504.9"/><use href="#mG3" y="511"/><use href="#mG3" y="517.1"/><use href="#mG3" y="523.2"/><use href="#mG2" y="529.3"/><use href="#mG3" y="535.4"/><use href="#mG3" y="541.5"/>
</g>
</svg>
